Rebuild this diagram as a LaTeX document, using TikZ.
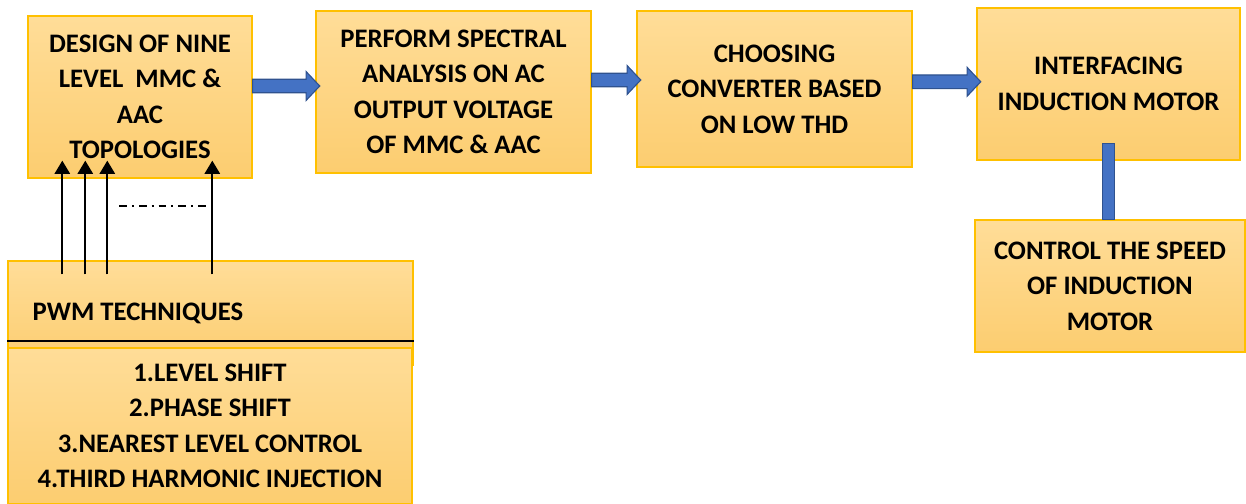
\documentclass[tikz,border=0pt]{standalone}
\usepackage{fontspec}
\setmainfont{Carlito}
\usetikzlibrary{arrows.meta, calc, positioning}
\definecolor{boxtop}{RGB}{255,221,152}
\definecolor{boxbot}{RGB}{252,205,112}
\definecolor{boxedge}{RGB}{255,192,0}
\definecolor{arrowblue}{RGB}{68,114,196}
\definecolor{arrowedge}{RGB}{47,82,143}
\tikzset{
    flowchart/.style={font=\bfseries\fontsize{19}{25.2}\selectfont, x=0.025cm, y=-0.025cm},
    block/.style={draw=boxedge, line width=0.9pt, top color=boxtop, bottom color=boxbot, align=center, inner sep=0pt},
    % wide blue arrow, kept at the height of its start point
    bigarrow/.style={draw=arrowedge, fill=arrowblue, line width=0.8pt,
        to path={let \p1=(\tikztostart), \p2=(\tikztotarget) in
            (\x1,\y1+1.7mm) -- (\x2-2.3mm,\y1+1.7mm) -- (\x2-2.3mm,\y1+3.6mm) -- (\x2+1.1mm,\y1)
            -- (\x2-2.3mm,\y1-3.6mm) -- (\x2-2.3mm,\y1-1.7mm) -- (\x1,\y1-1.7mm) -- cycle}},
    bar/.style={draw=arrowedge, fill=arrowblue, line width=0.8pt,
        to path={let \p1=(\tikztostart), \p2=(\tikztotarget) in
            (\x1-1.4mm,\y1) rectangle (\x1+1.4mm,\y2)}},
    signal/.style={line width=1.5pt, -{Triangle[width=3.8mm,length=3.3mm]}},
    sepline/.style={line width=1.4pt},
    dotdash/.style={line width=1.5pt, dash pattern=on 5.5pt off 3.5pt on 1.5pt off 3.5pt},
}
\begin{document}
\begin{tikzpicture}[flowchart]
    \useasboundingbox (0,0) rectangle (1246,504);

    \node[block, minimum width=5.6cm, minimum height=4.05cm]   (design)   at (140,97)    {DESIGN OF NINE\\LEVEL~~MMC \&\\AAC\\TOPOLOGIES};
    \node[block, minimum width=6.875cm, minimum height=4.05cm] (spectral) at (453.5,92)  {PERFORM SPECTRAL\\ANALYSIS ON AC\\OUTPUT VOLTAGE\\OF MMC \& AAC};
    \node[block, minimum width=6.875cm, minimum height=3.9cm]  (choose)   at (774.5,89)  {CHOOSING\\CONVERTER BASED\\ON LOW THD};
    \node[block, minimum width=6.575cm, minimum height=3.8cm]  (motor)    at (1108.5,84) {INTERFACING\\INDUCTION MOTOR};
    \node[block, minimum width=6.75cm, minimum height=3.3cm]   (speed)    at (1110,286)  {CONTROL THE SPEED\\OF INDUCTION\\MOTOR};

    \node[block, minimum width=10.125cm, minimum height=2.6cm] (pwm)      at (210.5,313) {};
    \node[anchor=west, inner sep=0pt]                          (pwmtitle) at ([xshift=0.625cm]pwm.west) {PWM TECHNIQUES};
    \node[block, minimum width=10.1cm, minimum height=3.9cm]   (methods)  at (210,426)   {1.LEVEL SHIFT\\2.PHASE SHIFT\\3.NEAREST LEVEL CONTROL\\4.THIRD HARMONIC INJECTION};
    \draw[sepline] ([yshift=-2.025cm]pwm.north west) -- ([yshift=-2.025cm]pwm.north east);

    \path[bigarrow] ([yshift=2.75mm]design.east)  to (spectral.west);
    \path[bigarrow] ([yshift=3mm]spectral.east)   to (choose.west);
    \path[bigarrow] ([yshift=1.8mm]choose.east)   to (motor.west);
    \path[bar]      ([yshift=4.25mm]motor.south)  to (speed.north);

    % inputs from the pwm block, the gap stands for the rest
    \foreach \dx [count=\i] in {55,78,100,205} {
        \coordinate (in\i) at ([shift={(\dx,14)}]pwm.north west);
        \draw[signal] (in\i) -- ($(design.south -| in\i)+(0,-18)$);
    }
    \draw[dotdash] ($(in3)+(12,-68)$) -- ($(in4)+(-3,-68)$);
\end{tikzpicture}
\end{document}
